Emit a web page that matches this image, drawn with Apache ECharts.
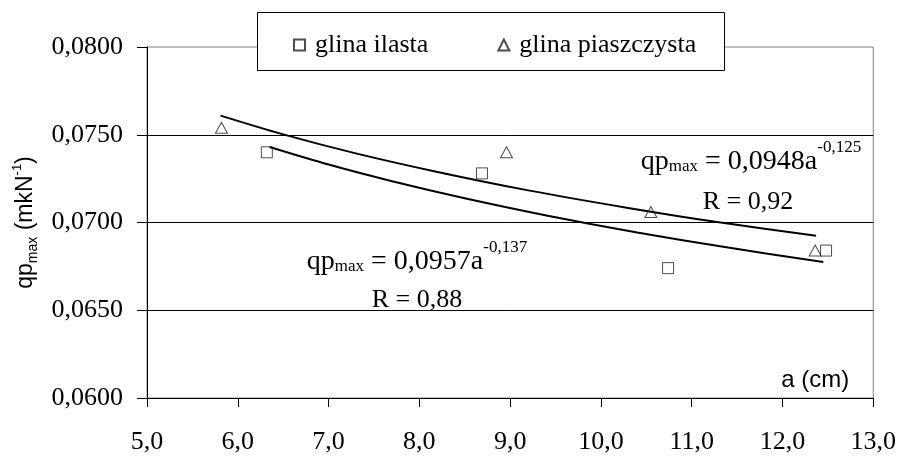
<!DOCTYPE html>
<html><head><meta charset="utf-8">
<script src="https://cdn.jsdelivr.net/npm/echarts@6/dist/echarts.min.js"></script>
<style>html,body{margin:0;padding:0;background:#fff}#c{width:899px;height:456px}</style>
</head><body><div id="c"></div>
<script>
// measured data
const seriesNames = ['glina ilasta', 'glina piaszczysta'];
const ilastaA = [6.32, 8.69, 10.74, 12.48];
const ilastaQ = [0.0740, 0.0728, 0.0674, 0.0684];
const piaszA = [5.82, 8.96, 10.55, 12.36];
const piaszQ = [0.0754, 0.0740, 0.0706, 0.0684];
// trend lines
const trendIlastaA = [6.35, 7.0, 7.7, 8.5, 9.4, 10.4, 11.4, 12.45];
const trendIlastaQ = [0.07430, 0.07330, 0.07235, 0.07138, 0.07040, 0.06943, 0.06857, 0.06775];
const trendPiaszA = [5.81, 6.5, 7.3, 8.2, 9.2, 10.3, 11.3, 12.37];
const trendPiaszQ = [0.07609, 0.07502, 0.07394, 0.07288, 0.07183, 0.07083, 0.07001, 0.06925];
// annotation texts
const eqPiasz = ['qp', 'max', ' = 0,0948a', '-0,125'];
const rPiasz = 'R = 0,92';
const eqIlasta = ['qp', 'max', ' = 0,0957a', '-0,137'];
const rIlasta = 'R = 0,88';

const zip = (a, b) => a.map((v, i) => [v, b[i]]);
const SERIF = 'Liberation Serif';
const SANS = 'Liberation Sans';

const eqRich = {
  m: {fontFamily: SERIF, fontSize: 28, lineHeight: 46, fill: '#000'},
  s: {fontFamily: SERIF, fontSize: 17, lineHeight: 28, padding: [0, 0, 10, 0], verticalAlign: 'bottom', fill: '#000'},
  p: {fontFamily: SERIF, fontSize: 17, lineHeight: 12, verticalAlign: 'top', fill: '#000'}
};
const eqText = e => `{m|${e[0]}}{s|${e[1]}}{m|${e[2]}}{p|${e[3]}}`;

const chart = echarts.init(document.getElementById('c'), null, {renderer: 'canvas'});
chart.setOption({
  animation: false,
  backgroundColor: '#fff',
  grid: {left: 147, top: 47, right: 24, bottom: 58, show: true, borderColor: '#808080', borderWidth: 1, backgroundColor: 'transparent'},
  xAxis: {
    type: 'value', min: 5, max: 13, interval: 1,
    axisLine: {show: true, onZero: false, lineStyle: {color: '#000', width: 1}},
    axisTick: {show: true, inside: false, length: 9, lineStyle: {color: '#000'}},
    axisLabel: {margin: 31, color: '#000', fontFamily: SERIF, fontSize: 26, formatter: v => v.toFixed(1).replace('.', ',')},
    splitLine: {show: false},
    name: 'a (cm)', nameLocation: 'end', nameGap: -92,
    nameTextStyle: {fontFamily: SANS, fontSize: 24, color: '#000', align: 'left', verticalAlign: 'bottom', padding: [0, 0, 6, 0]}
  },
  yAxis: {
    type: 'value', min: 0.06, max: 0.08, interval: 0.005,
    axisLine: {show: true, onZero: false, lineStyle: {color: '#000', width: 1}},
    axisTick: {show: true, inside: false, length: 10, lineStyle: {color: '#000'}},
    axisLabel: {margin: 24, color: '#000', fontFamily: SERIF, fontSize: 26, formatter: v => v.toFixed(4).replace('.', ',')},
    splitLine: {show: true, showMinLine: false, showMaxLine: false, lineStyle: {color: '#000', width: 1}},
    name: '{n|qp}{s|max}{n| (mkN}{p|-1}{n|)}', nameLocation: 'middle', nameGap: 104, nameRotate: 90,
    nameTextStyle: {
      rich: {
        n: {fontFamily: SANS, fontSize: 23, lineHeight: 30, color: '#000'},
        s: {fontFamily: SANS, fontSize: 14, lineHeight: 18, verticalAlign: 'bottom', color: '#000'},
        p: {fontFamily: SANS, fontSize: 13, lineHeight: 18, verticalAlign: 'top', color: '#000'}
      }
    }
  },
  legend: {
    show: true, left: 288, top: 27, itemWidth: 11, itemHeight: 11, itemGap: 69,
    data: seriesNames,
    textStyle: {fontFamily: SERIF, fontSize: 26, color: '#000', padding: [0, 0, 0, 5]}
  },
  graphic: [
    {type: 'rect', left: 257, top: 12, z: 0, shape: {width: 467, height: 58}, style: {fill: '#fff', stroke: '#000', lineWidth: 1}},
    {type: 'text', x: 751, y: 139, z: 10, style: {text: eqText(eqPiasz), rich: eqRich, align: 'center', verticalAlign: 'top'}},
    {type: 'text', x: 748, y: 202, z: 10, style: {text: rPiasz, font: `26px "${SERIF}"`, fill: '#000', align: 'center', verticalAlign: 'middle'}},
    {type: 'text', x: 417, y: 239, z: 10, style: {text: eqText(eqIlasta), rich: eqRich, align: 'center', verticalAlign: 'top'}},
    {type: 'text', x: 417, y: 300, z: 10, style: {text: rIlasta, font: `26px "${SERIF}"`, fill: '#000', align: 'center', verticalAlign: 'middle'}}
  ],
  series: [
    {name: 'trend ilasta', type: 'line', data: zip(trendIlastaA, trendIlastaQ), smooth: 0.3, symbol: 'none',
     lineStyle: {color: '#000', width: 2}, z: 3, silent: true},
    {name: 'trend piasz', type: 'line', data: zip(trendPiaszA, trendPiaszQ), smooth: 0.3, symbol: 'none',
     lineStyle: {color: '#000', width: 2}, z: 3, silent: true},
    {name: seriesNames[0], type: 'scatter', data: zip(ilastaA, ilastaQ), symbol: 'rect', symbolSize: 11,
     itemStyle: {color: 'rgba(255,255,255,0)', borderColor: '#222', borderWidth: 1}, z: 5},
    {name: seriesNames[1], type: 'scatter', data: zip(piaszA, piaszQ), symbol: 'triangle', symbolSize: [12, 11],
     itemStyle: {color: 'rgba(255,255,255,0)', borderColor: '#222', borderWidth: 1}, z: 5}
  ]
});
</script>
</body></html>
